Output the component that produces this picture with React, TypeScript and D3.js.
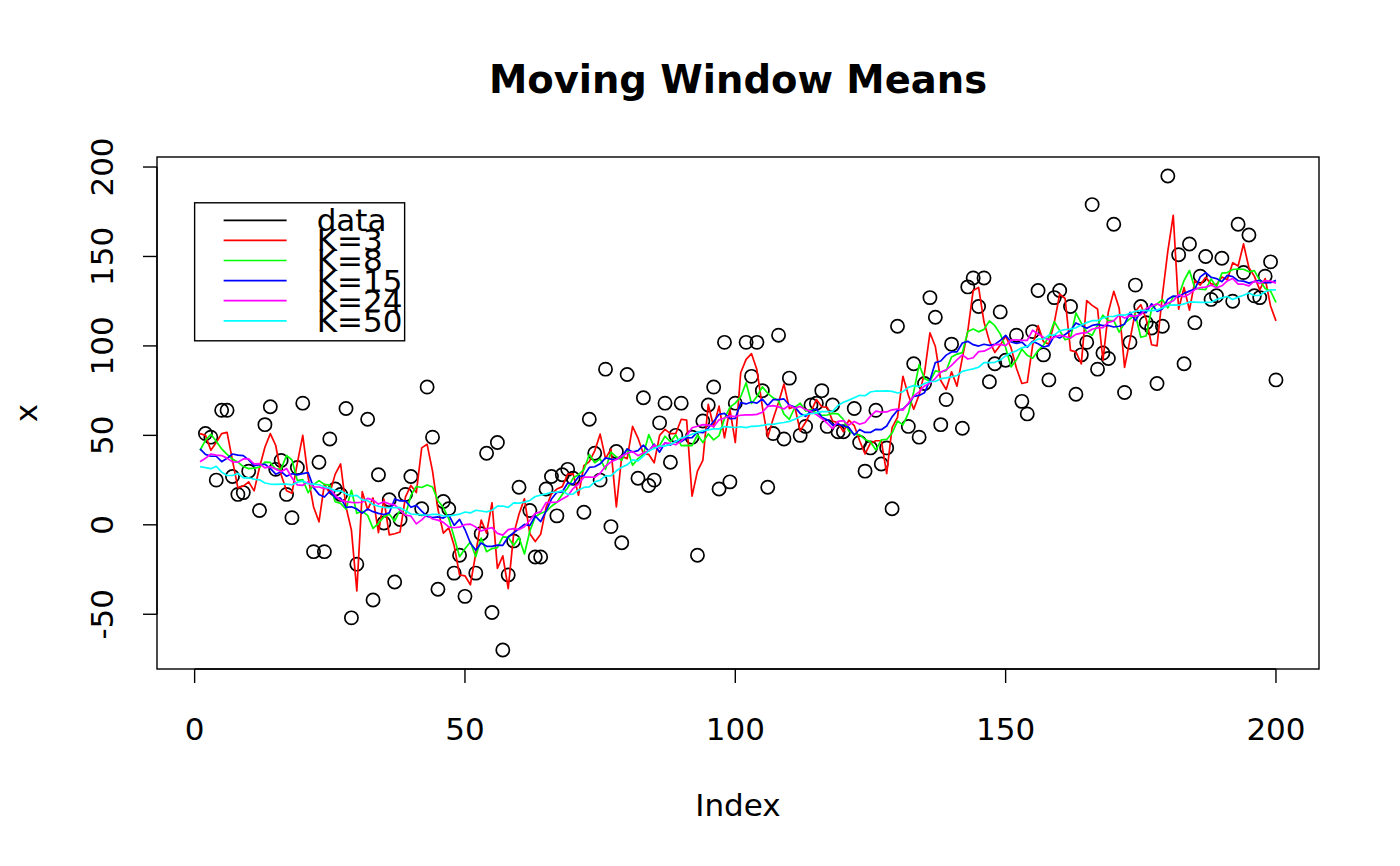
import React from "react";
import * as d3 from "d3";

const NA = null;
// observed data values for index 1..200 (NA = missing)
const dataValues: (number | null)[] = [
  NA, 51, 49, 25, 64, 64, 27, 17, 18, 30,
  NA, 8, 56, 66, 31, 36, 17, 4, 32, 68,
  NA, -15, 35, -15, 48, 20, 17, 65, -52, -22,
  NA, 59, -42, 28, 1, 14, -32, 3, 17, 27,
  NA, 9, 77, 49, -36, 13, 9, -27, -17, -40,
  NA, -27, -5, 40, -49, 46, -70, -28, -9, 21,
  NA, 8, -18, -18, 20, 27, 5, 28, 31, 26,
  NA, 7, 59, 40, 25, 87, -1, 41, -10, 84,
  NA, 26, 71, 22, 25, 57, 68, 35, 50, 68,
  NA, 49, -17, 58, 67, 77, 20, 102, 24, 68,
  NA, 102, 83, 102, 75, 21, 51, 106, 48, 82,
  NA, 50, 55, 67, 68, 75, 55, 67, 52, 52,
  NA, 65, 46, 30, 43, 64, 34, 43, 9, 111,
  NA, 55, 90, 49, 79, 127, 116, 56, 70, 101,
  NA, 54, 133, 138, 122, 138, 80, 90, 119, 92,
  NA, 106, 69, 62, 108, 131, 95, 81, 127, 131,
  NA, 122, 73, 95, 102, 179, 87, 96, 93, 168,
  NA, 74, 102, 134, 122, 113, 110, 79, 111, 195,
  NA, 151, 90, 157, 113, 139, 150, 126, 128, 149,
  NA, 125, 168, 141, 162, 128, 127, 139, 147, 81,
];
const windowSizes = [3, 8, 15, 24, 50];
const seriesColors = ["#000000", "#FF0000", "#00FF00", "#0000FF", "#FF00FF", "#00FFFF"];
const legendLabels = ["data", "K=3", "K=8", "K=15", "K=24", "K=50"];
const xTicks = [0, 50, 100, 150, 200];
const yTicks = [-50, 0, 50, 100, 150, 200];
const titleText = "Moving Window Means";
const xLabel = "Index";
const yLabel = "x";
const legendAnchor = [0, 180];

// centered running mean, NA ignored, partial windows at the ends
function runmean(x: (number | null)[], k: number): number[] {
  const n = x.length;
  const k2 = Math.floor(k / 2);
  const out: number[] = [];
  for (let i = 0; i < n; i++) {
    const lo = Math.max(0, i - k2);
    const hi = Math.min(n - 1, i - k2 + k - 1);
    let s = 0, c = 0;
    for (let j = lo; j <= hi; j++) {
      const v = x[j];
      if (v !== null && isFinite(v)) { s += v; c++; }
    }
    out.push(c ? s / c : NaN);
  }
  return out;
}

const W = 1400, H = 866;
const L = 157, R = 1319, T = 157, B = 669;
const FONT = "'DejaVu Sans', sans-serif";
const FS = 31;

export default function App() {
  const n = dataValues.length;
  const xr = n - 1;
  const x = d3.scaleLinear().domain([1 - 0.04 * xr, n + 0.04 * xr]).range([L, R]);
  const finite = dataValues.filter((v) => v !== null) as number[];
  const [ymin, ymax] = d3.extent(finite) as [number, number];
  const yr = ymax - ymin;
  const y = d3.scaleLinear().domain([ymin - 0.04 * yr, ymax + 0.04 * yr]).range([B, T]);

  const series = windowSizes.map((k) => runmean(dataValues, k));
  const line = d3
    .line<number>()
    .defined((d) => isFinite(d))
    .x((_, i) => x(i + 1))
    .y((d) => y(d));

  const lx = x(legendAnchor[0]);
  const ly = y(legendAnchor[1]);
  const rowH = 20.1;

  return (
    <svg
      width={W}
      height={H}
      viewBox={`0 0 ${W} ${H}`}
      style={{ position: "absolute", left: 0, top: 0, background: "#fff" }}
      fontFamily={FONT}
    >
      <rect x={0} y={0} width={W} height={H} fill="#fff" />
      <text x={(L + R) / 2} y={93} textAnchor="middle" fontSize={38.5} fontWeight="bold">
        {titleText}
      </text>

      {/* data points */}
      {dataValues.map((v, i) =>
        v === null ? null : (
          <circle key={i} cx={x(i + 1)} cy={y(v)} r={6.6} fill="none" stroke="#000" strokeWidth={1.7} />
        )
      )}

      {/* running means */}
      {series.map((s, j) => (
        <path key={j} d={line(s) || ""} fill="none" stroke={seriesColors[j + 1]} strokeWidth={1.7} strokeLinejoin="round" />
      ))}

      {/* box */}
      <rect x={L} y={T} width={R - L} height={B - T} fill="none" stroke="#000" strokeWidth={1.4} />

      {/* x axis */}
      <line x1={x(xTicks[0])} x2={x(xTicks[xTicks.length - 1])} y1={B} y2={B} stroke="#000" strokeWidth={1.4} />
      {xTicks.map((t) => (
        <g key={t}>
          <line x1={x(t)} x2={x(t)} y1={B} y2={B + 14} stroke="#000" strokeWidth={1.4} />
          <text x={x(t)} y={740} textAnchor="middle" fontSize={FS}>
            {t}
          </text>
        </g>
      ))}
      <text x={(L + R) / 2} y={816} textAnchor="middle" fontSize={FS}>
        {xLabel}
      </text>

      {/* y axis */}
      <line x1={L} x2={L} y1={y(yTicks[0])} y2={y(yTicks[yTicks.length - 1])} stroke="#000" strokeWidth={1.4} />
      {yTicks.map((t) => (
        <g key={t}>
          <line x1={L} x2={L - 14} y1={y(t)} y2={y(t)} stroke="#000" strokeWidth={1.4} />
          <text transform={`translate(113,${y(t)}) rotate(-90)`} textAnchor="middle" fontSize={FS}>
            {t}
          </text>
        </g>
      ))}
      <text transform={`translate(37,${(T + B) / 2}) rotate(-90)`} textAnchor="middle" fontSize={FS}>
        {yLabel}
      </text>

      {/* legend */}
      <rect x={lx} y={ly} width={210} height={138} fill="#fff" stroke="#000" strokeWidth={1.4} />
      {legendLabels.map((lab, j) => {
        const ry = ly + 17.5 + rowH * j;
        return (
          <g key={lab}>
            <line x1={lx + 29} x2={lx + 92} y1={ry} y2={ry} stroke={seriesColors[j]} strokeWidth={1.7} />
            <text x={lx + 122} y={ry + 11} fontSize={FS}>
              {lab}
            </text>
          </g>
        );
      })}
    </svg>
  );
}
